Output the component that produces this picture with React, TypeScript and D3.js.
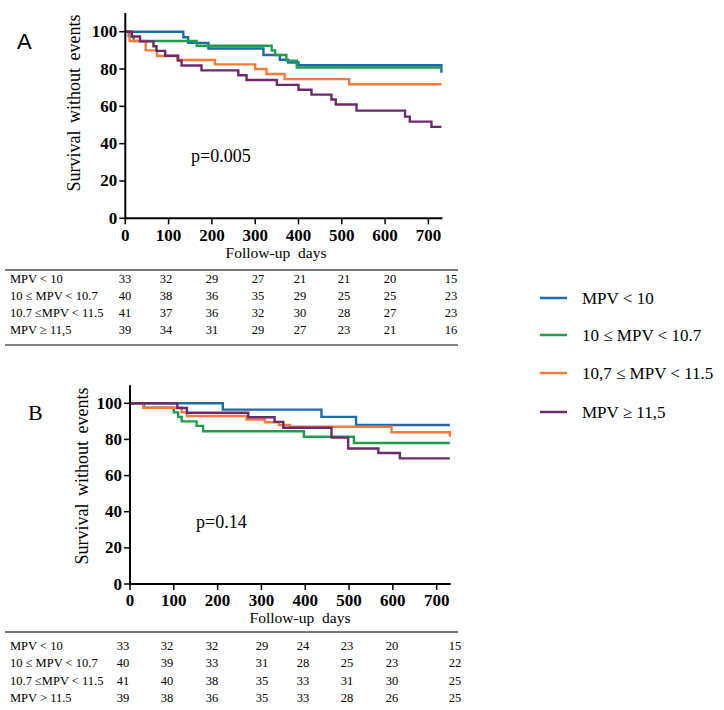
import React from "react";
import * as d3 from "d3";

const groupLabels = ["MPV < 10", "10 ≤ MPV < 10.7", "10,7 ≤ MPV < 11.5", "MPV ≥ 11,5"];
const groupColors = ["#1d6ba7", "#1f9d4b", "#f77a3b", "#6a2b6b"];
const timeTicks = [0, 100, 200, 300, 400, 500, 600, 700];
const survTicks = [0, 20, 40, 60, 80, 100];

const riskLabelsA = ["MPV < 10", "10 ≤ MPV < 10.7", "10.7 ≤MPV < 11.5", "MPV ≥ 11,5"];
const riskLabelsB = ["MPV < 10", "10 ≤ MPV < 10.7", "10.7 ≤MPV < 11.5", "MPV > 11.5"];
const riskA = [
  [33, 32, 29, 27, 21, 21, 20, 15],
  [40, 38, 36, 35, 29, 25, 25, 23],
  [41, 37, 36, 32, 30, 28, 27, 23],
  [39, 34, 31, 29, 27, 23, 21, 16],
];
const riskB = [
  [33, 32, 32, 29, 24, 23, 20, 15],
  [40, 39, 33, 31, 28, 25, 23, 22],
  [41, 40, 38, 35, 33, 31, 30, 25],
  [39, 38, 36, 35, 33, 28, 26, 25],
];

// Panel A Kaplan-Meier steps [day, survival %]
const blueA = [[0, 100], [134, 97], [145, 94], [192, 91], [319, 87.5], [357, 85], [376, 83.5], [400, 82], [729, 82], [730, 78]];
const greenA = [[0, 100], [8, 97.5], [19, 95], [165, 92.5], [338, 90], [346, 87.5], [372, 84.5], [396, 80.8], [730, 80.8]];
const orangeA = [[0, 100], [10, 95], [47, 90], [73, 87], [120, 84.8], [207, 82.5], [300, 80], [326, 77.3], [368, 74.6], [517, 71.8], [730, 71.8]];
const purpleA = [[0, 100], [15, 97.4], [34, 94.8], [65, 92.2], [72, 89.7], [92, 87.1], [122, 84.5], [130, 81.9], [176, 79.3], [261, 76.7], [280, 74.1], [350, 71.5], [400, 68.9], [430, 66.3], [476, 63.7], [486, 61], [534, 57.7], [646, 54.5], [657, 51.8], [707, 49], [730, 49]];

// Panel B
const blueB = [[0, 100], [212, 96.5], [437, 92.5], [516, 88], [730, 88]];
const greenB = [[0, 100], [32, 97.5], [100, 95], [110, 92.5], [118, 90], [152, 87.5], [167, 84.5], [397, 81.5], [511, 78], [730, 78]];
const orangeB = [[0, 100], [30, 97.5], [118, 95], [130, 93], [266, 91], [308, 89.5], [340, 88], [365, 87], [597, 84], [729, 84], [730, 81.5]];
const purpleB = [[0, 100], [108, 97.4], [130, 94.8], [270, 92.3], [330, 89.7], [350, 86.5], [460, 81], [498, 75], [567, 72.5], [616, 69.5], [730, 69.5]];

const curvesA = [blueA, greenA, orangeA, purpleA];
const curvesB = [blueB, greenB, orangeB, purpleB];

const SERIF = "'Liberation Serif', 'Times New Roman', serif";

type PanelProps = {
  curves: number[][][];
  x0: number; x1: number; yTop: number; yBottom: number;
  letter: string; letterX: number; letterY: number; letterFont: string; letterSize: number;
  pText: string; pX: number; pY: number;
  yLabelX: number; yLabelY: number;
  followY: number; followX: number;
  tickLabelY: number;
  tableTop: number; rowYs: number[]; colXs: number[]; labels: string[]; risk: number[][];
  bottomLine?: number;
};

function Panel(p: PanelProps) {
  const x = d3.scaleLinear().domain([0, 730]).range([p.x0, p.x1]);
  const y = d3.scaleLinear().domain([0, 100]).range([p.yBottom, p.yTop]);
  const line = d3.line<number[]>().x((d) => x(d[0])).y((d) => y(d[1])).curve(d3.curveStepAfter);
  const yMax = y(110);
  return (
    <g>
      <text x={p.letterX} y={p.letterY} fontFamily={p.letterFont} fontSize={p.letterSize}>{p.letter}</text>
      {p.curves.map((c, i) => (
        <path key={i} d={line(c) || ""} fill="none" stroke={groupColors[i]} strokeWidth={2.4} />
      ))}
      <line x1={x(0)} x2={x(0)} y1={yMax} y2={y(0) + 1} stroke="#000" strokeWidth={2} />
      <line x1={x(0) - 1} x2={x(730) + 1} y1={y(0)} y2={y(0)} stroke="#000" strokeWidth={2} />
      {survTicks.map((t) => (
        <g key={"y" + t}>
          <line x1={x(0) - 6} x2={x(0)} y1={y(t)} y2={y(t)} stroke="#000" strokeWidth={1.5} />
          <text x={x(0) - 8} y={y(t) + 5.5} textAnchor="end" fontFamily={SERIF} fontWeight="bold" fontSize={17}>{t}</text>
        </g>
      ))}
      {timeTicks.map((t) => (
        <g key={"x" + t}>
          <line x1={x(t)} x2={x(t)} y1={y(0)} y2={y(0) + 6} stroke="#000" strokeWidth={1.5} />
          <text x={x(t)} y={p.tickLabelY} textAnchor="middle" fontFamily={SERIF} fontWeight="bold" fontSize={17}>{t}</text>
        </g>
      ))}
      <text x={p.followX} y={p.followY} textAnchor="middle" fontFamily={SERIF} fontSize={15.5} wordSpacing={4}>Follow-up days</text>
      <text transform={`translate(${p.yLabelX},${p.yLabelY}) rotate(-90)`} textAnchor="middle" fontFamily={SERIF} fontSize={18} wordSpacing={3}>Survival without events</text>
      <text x={p.pX} y={p.pY} fontFamily={SERIF} fontSize={18}>{p.pText}</text>
      <line x1={5} x2={458} y1={p.tableTop} y2={p.tableTop} stroke="#777" strokeWidth={2} />
      {p.bottomLine !== undefined && (
        <line x1={5} x2={458} y1={p.bottomLine} y2={p.bottomLine} stroke="#000" strokeWidth={1.2} />
      )}
      {p.labels.map((lab, r) => (
        <g key={"r" + r}>
          <text x={10} y={p.rowYs[r] + 4} fontFamily={SERIF} fontSize={12.5}>{lab}</text>
          {p.risk[r].map((v, c) => (
            <text key={c} x={p.colXs[c]} y={p.rowYs[r] + 4} textAnchor="middle" fontFamily={SERIF} fontSize={12.5}>{v}</text>
          ))}
        </g>
      ))}
    </g>
  );
}

export default function App() {
  return (
    <svg width={724} height={710} style={{ position: "absolute", left: 0, top: 0, background: "#fff" }}>
      <rect x={0} y={0} width={724} height={710} fill="#fff" />
      <Panel
        curves={curvesA}
        x0={125.3} x1={441.4} yTop={31.7} yBottom={218.3}
        letter="A" letterX={17} letterY={49} letterFont="'Liberation Sans', Arial, sans-serif" letterSize={22}
        pText="p=0.005" pX={191} pY={162}
        yLabelX={80} yLabelY={103}
        followX={276} followY={258}
        tickLabelY={241}
        tableTop={270} rowYs={[279, 296, 313, 330]}
        colXs={[125, 166, 212, 258, 300, 344, 390, 451]}
        labels={riskLabelsA} risk={riskA} bottomLine={345}
      />
      <Panel
        curves={curvesB}
        x0={130} x1={449.8} yTop={403.3} yBottom={584}
        letter="B" letterX={28} letterY={420} letterFont={SERIF} letterSize={22}
        pText="p=0.14" pX={196} pY={528}
        yLabelX={88} yLabelY={476}
        followX={300} followY={623}
        tickLabelY={606}
        tableTop={632} rowYs={[646, 663, 681, 698]}
        colXs={[123, 167, 212, 262, 303, 347, 392, 455]}
        labels={riskLabelsB} risk={riskB}
      />
      {groupLabels.map((lab, i) => {
        const ly = [298, 335, 373, 412][i];
        return (
          <g key={lab}>
            <line x1={540} x2={567} y1={ly} y2={ly} stroke={groupColors[i]} strokeWidth={2.5} />
            <text x={582} y={ly + 6} fontFamily={SERIF} fontSize={17}>{lab}</text>
          </g>
        );
      })}
    </svg>
  );
}
